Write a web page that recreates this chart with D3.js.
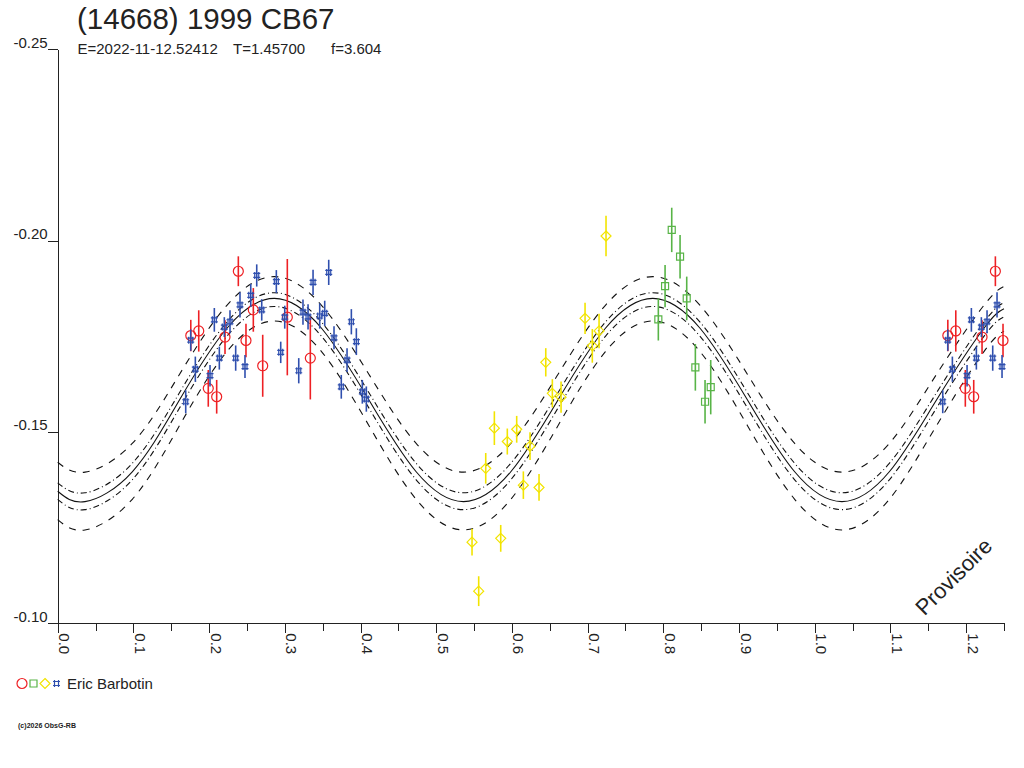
<!DOCTYPE html>
<html>
<head>
<meta charset="utf-8">
<script src="https://cdn.jsdelivr.net/npm/d3@7"></script>
<style>
  html, body { margin: 0; padding: 0; background: #fff; }
  svg { display: block; font-family: "Liberation Sans", Arial, sans-serif; }
</style>
</head>
<body>
<svg id="chart" width="1024" height="768"></svg>
<script>
// ---------- data ----------
const titleText = "(14668) 1999 CB67";
const subEpoch = "E=2022-11-12.52412";
const subPeriod = "T=1.45700";
const subFreq = "f=3.604";
const observer = "Eric Barbotin";
const copyright = "(c)2026 ObsG-RB";
const stamp = "Provisoire";

const yTickValues = [-0.25, -0.20, -0.15, -0.10];
const yTickLabels = ["-0.25", "-0.20", "-0.15", "-0.10"];
const xMajorValues = [0.0, 0.1, 0.2, 0.3, 0.4, 0.5, 0.6, 0.7, 0.8, 0.9, 1.0, 1.1, 1.2];
const xMajorLabels = ["0.0", "0.1", "0.2", "0.3", "0.4", "0.5", "0.6", "0.7", "0.8", "0.9", "1.0", "1.1", "1.2"];
const xMinorValues = [0.05, 0.15, 0.25, 0.35, 0.45, 0.55, 0.65, 0.75, 0.85, 0.95, 1.05, 1.15, 1.25];

// red circles
const redPhase = [0.2386, 0.1758, 0.1863, 0.2210, 0.2584, 0.2487, 0.1989, 0.2100, 0.2708, 0.3033, 0.3337];
const redMag   = [-0.1920, -0.1752, -0.1764, -0.1748, -0.1819, -0.1739, -0.1614, -0.1592, -0.1673, -0.1800, -0.1693];
const redErr   = [0.0039, 0.0041, 0.0054, 0.0044, 0.0057, 0.0044, 0.0048, 0.0044, 0.0081, 0.0152, 0.0108];

// green squares
const greenPhase = [0.8111, 0.8221, 0.8023, 0.8309, 0.7934, 0.8423, 0.8626, 0.8551];
const greenMag   = [-0.2028, -0.1958, -0.1881, -0.1849, -0.1794, -0.1669, -0.1617, -0.1579];
const greenErr   = [0.0058, 0.0057, 0.0055, 0.0057, 0.0055, 0.0061, 0.0071, 0.0057];

// yellow diamonds
const yellowPhase = [0.5768, 0.6063, 0.5939, 0.6239, 0.5654, 0.6151, 0.6358, 0.5473, 0.5852, 0.5561, 0.7243, 0.6966, 0.7151, 0.7062, 0.6447, 0.6534, 0.6649];
const yellowMag   = [-0.1510, -0.1507, -0.1475, -0.1463, -0.1405, -0.1361, -0.1355, -0.1212, -0.1222, -0.1084, -0.2012, -0.1797, -0.1764, -0.1725, -0.1682, -0.1601, -0.1591];
const yellowErr   = [0.0044, 0.0035, 0.0034, 0.0036, 0.0040, 0.0036, 0.0035, 0.0035, 0.0035, 0.0039, 0.0053, 0.0041, 0.0045, 0.0044, 0.0037, 0.0037, 0.0041];

// blue crosses
const bluePhase = [0.2629, 0.2550, 0.2408, 0.2695, 0.2069, 0.2276, 0.2201, 0.1757, 0.2135, 0.2351, 0.2474, 0.1818, 0.2012, 0.1691, 0.2888, 0.3373, 0.3580, 0.2999, 0.3240, 0.3307, 0.3461, 0.3527, 0.3879, 0.3650, 0.3945, 0.2946, 0.3184, 0.3822, 0.3746, 0.4024, 0.4077];
const blueMag   = [-0.1909, -0.1857, -0.1832, -0.1819, -0.1793, -0.1788, -0.1774, -0.1740, -0.1693, -0.1693, -0.1671, -0.1664, -0.1647, -0.1579, -0.1893, -0.1891, -0.1917, -0.1800, -0.1813, -0.1801, -0.1803, -0.1810, -0.1788, -0.1746, -0.1736, -0.1708, -0.1660, -0.1688, -0.1618, -0.1605, -0.1586];
const blueErr   = [0.0029, 0.0030, 0.0033, 0.0028, 0.0031, 0.0030, 0.0026, 0.0028, 0.0030, 0.0033, 0.0030, 0.0033, 0.0028, 0.0030, 0.0030, 0.0033, 0.0033, 0.0030, 0.0033, 0.0033, 0.0033, 0.0033, 0.0033, 0.0030, 0.0035, 0.0028, 0.0033, 0.0031, 0.0031, 0.0031, 0.0033];

// fitted curve and its envelopes
const fitPhase = [0, 0.036, 0.0985, 0.161, 0.2235, 0.286, 0.3485, 0.411, 0.4735, 0.536, 0.5985, 0.661, 0.7235, 0.786, 0.8485, 0.911, 0.9735, 1.036, 1.0985, 1.161, 1.2235, 1.25];
const fitMid   = [-0.1345, -0.1318, -0.1396, -0.1584, -0.1771, -0.1849, -0.1771, -0.1584, -0.1396, -0.1318, -0.1396, -0.1584, -0.1771, -0.1849, -0.1771, -0.1584, -0.1396, -0.1318, -0.1396, -0.1584, -0.1771, -0.1822];
const fitInnerUp  = [-0.1367, -0.1341, -0.1418, -0.1603, -0.1787, -0.1864, -0.1787, -0.1603, -0.1418, -0.1341, -0.1418, -0.1603, -0.1787, -0.1864, -0.1787, -0.1603, -0.1418, -0.1341, -0.1418, -0.1603, -0.1787, -0.1838];
const fitInnerLow = [-0.1324, -0.1297, -0.1375, -0.1563, -0.1750, -0.1828, -0.1750, -0.1563, -0.1375, -0.1297, -0.1375, -0.1563, -0.1750, -0.1828, -0.1750, -0.1563, -0.1375, -0.1297, -0.1375, -0.1563, -0.1750, -0.1801];
const fitOuterUp  = [-0.1421, -0.1395, -0.1470, -0.1651, -0.1831, -0.1906, -0.1831, -0.1651, -0.1470, -0.1395, -0.1470, -0.1651, -0.1831, -0.1906, -0.1831, -0.1651, -0.1470, -0.1395, -0.1470, -0.1651, -0.1831, -0.1880];
const fitOuterLow = [-0.1271, -0.1244, -0.1324, -0.1517, -0.1710, -0.1790, -0.1710, -0.1517, -0.1324, -0.1244, -0.1324, -0.1517, -0.1710, -0.1790, -0.1710, -0.1517, -0.1324, -0.1244, -0.1324, -0.1517, -0.1710, -0.1763];

// ---------- drawing ----------
const svg = d3.select("#chart");
svg.append("rect").attr("width", 1024).attr("height", 768).attr("fill", "#fff");

const X0 = 57.7, X1 = 1004, Y0 = 49.3, Y1 = 623.3;
const x = d3.scaleLinear().domain([0, 1.25]).range([X0, X1]);
const y = d3.scaleLinear().domain([-0.25, -0.10]).range([Y0, Y1]);
const ink = "#222";

// title
svg.append("text").attr("x", 77).attr("y", 28.5).attr("font-size", 29.5).attr("fill", ink).text(titleText);
svg.append("text").attr("x", 77.5).attr("y", 54.3).attr("font-size", 15).attr("fill", ink).text(subEpoch);
svg.append("text").attr("x", 233).attr("y", 54.3).attr("font-size", 15).attr("fill", ink).text(subPeriod);
svg.append("text").attr("x", 331).attr("y", 54.3).attr("font-size", 15).attr("fill", ink).text(subFreq);

// y axis
const yAxis = d3.axisLeft(y).tickValues(yTickValues).tickSize(10).tickSizeOuter(0).tickPadding(0)
  .tickFormat((d, i) => yTickLabels[i]);
const gy = svg.append("g").attr("transform", `translate(${X0},0)`).call(yAxis);
gy.selectAll("path, line").attr("stroke", ink).attr("shape-rendering", "crispEdges");
gy.selectAll("text").attr("font-size", 15).attr("font-family", "Liberation Sans, Arial, sans-serif")
  .attr("fill", ink).attr("x", -10).attr("dy", "-0.15em");

// x axis: minor ticks
const xMinor = d3.axisBottom(x).tickValues(xMinorValues).tickSize(8).tickSizeOuter(0).tickFormat("");
const gxm = svg.append("g").attr("transform", `translate(0,${Y1})`).call(xMinor);
gxm.selectAll("path, line").attr("stroke", ink).attr("shape-rendering", "crispEdges");
// x axis: major ticks
const xMajor = d3.axisBottom(x).tickValues(xMajorValues).tickSize(10).tickSizeOuter(0)
  .tickFormat((d, i) => xMajorLabels[i]);
const gx = svg.append("g").attr("transform", `translate(0,${Y1})`).call(xMajor);
gx.select("path").remove();
gx.selectAll("line").attr("stroke", ink).attr("shape-rendering", "crispEdges");
gx.selectAll("text").attr("font-size", 15).attr("font-family", "Liberation Sans, Arial, sans-serif")
  .attr("fill", ink).attr("y", 0).attr("dy", 0)
  .attr("text-anchor", "start").attr("transform", "translate(1,10) rotate(90)");

// fit curves
const curveLine = d3.line().x(d => x(d[0])).y(d => y(d[1])).curve(d3.curveNatural);
const curveSets = [
  { vals: fitOuterUp, dash: "7,7" },
  { vals: fitOuterLow, dash: "7,7" },
  { vals: fitInnerUp, dash: "6,3,1,3" },
  { vals: fitInnerLow, dash: "6,3,1,3" },
  { vals: fitMid, dash: null }
];
const gc = svg.append("g");
curveSets.forEach(c => {
  gc.append("path")
    .datum(fitPhase.map((p, i) => [p, c.vals[i]]))
    .attr("d", curveLine)
    .attr("fill", "none")
    .attr("stroke", "#111")
    .attr("stroke-width", 1.1)
    .attr("stroke-dasharray", c.dash);
});

// data series
const symbolPaths = {
  circle: "M5,0A5,5 0 1,1 -5,0A5,5 0 1,1 5,0Z",
  square: "M-3.5,-3.5H3.5V3.5H-3.5Z",
  diamond: "M0,-5L5,0L0,5L-5,0Z",
  hash: "M-3.5,-2H3.5M-3.5,2H3.5M-2,-3.5V3.5M2,-3.5V3.5"
};
const series = [
  { ph: redPhase, mg: redMag, er: redErr, color: "#ee2024", sym: "circle" },
  { ph: greenPhase, mg: greenMag, er: greenErr, color: "#58b447", sym: "square" },
  { ph: yellowPhase, mg: yellowMag, er: yellowErr, color: "#f2e400", sym: "diamond" },
  { ph: bluePhase, mg: blueMag, er: blueErr, color: "#2f4fae", sym: "hash" }
];
const gd = svg.append("g");
series.forEach(s => {
  const pts = [];
  s.ph.forEach((p, i) => {
    pts.push({ p: p, m: s.mg[i], e: s.er[i] });
    if (p + 1 <= 1.25) pts.push({ p: p + 1, m: s.mg[i], e: s.er[i] });
  });
  const g = gd.append("g");
  g.selectAll("line.err").data(pts).join("line")
    .attr("x1", d => x(d.p)).attr("x2", d => x(d.p))
    .attr("y1", d => y(d.m - d.e)).attr("y2", d => y(d.m + d.e))
    .attr("stroke", s.color).attr("stroke-width", 1.6);
  g.selectAll("path.sym").data(pts).join("path")
    .attr("transform", d => `translate(${x(d.p)},${y(d.m)})`)
    .attr("d", symbolPaths[s.sym])
    .attr("fill", "none").attr("stroke", s.color).attr("stroke-width", 1.2);
});

// legend
const legY = 683.5;
const legX = [22, 33.5, 45, 56.5];
series.forEach((s, i) => {
  svg.append("path").attr("transform", `translate(${legX[i]},${legY})`)
    .attr("d", symbolPaths[s.sym]).attr("fill", "none").attr("stroke", s.color).attr("stroke-width", 1.2);
});
svg.append("text").attr("x", 67).attr("y", 688.5).attr("font-size", 15).attr("fill", ink).text(observer);

// copyright
svg.append("text").attr("x", 18).attr("y", 728).attr("font-size", 7).attr("font-weight", "bold")
  .attr("fill", ink).attr("textLength", 58).text(copyright);

// stamp
svg.append("text").attr("transform", "translate(959,582) rotate(-45)")
  .attr("text-anchor", "middle").attr("font-size", 22).attr("fill", ink).text(stamp);
</script>
</body>
</html>
